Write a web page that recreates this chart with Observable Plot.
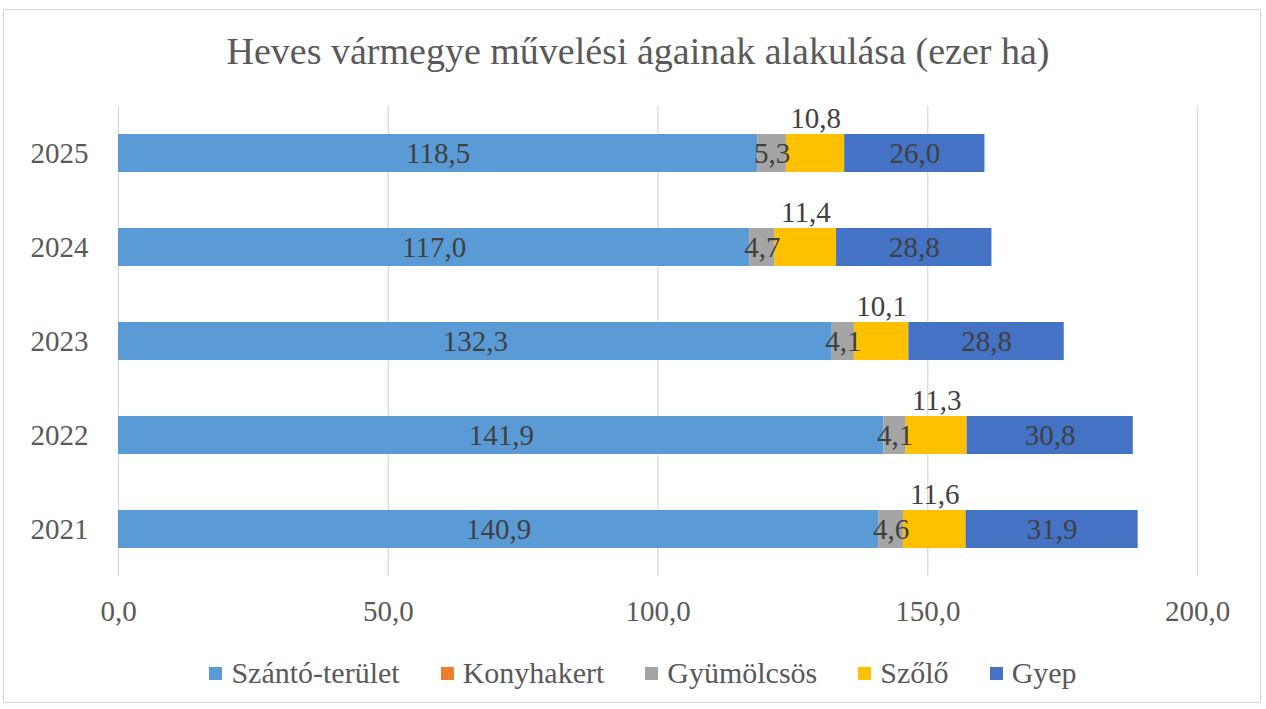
<!DOCTYPE html>
<html>
<head>
<meta charset="utf-8">
<script src="https://cdn.jsdelivr.net/npm/d3@7"></script>
<script src="https://cdn.jsdelivr.net/npm/@observablehq/plot@0.6"></script>
<style>
  html, body { margin: 0; padding: 0; background: #fff; }
  #wrap { position: relative; width: 1266px; height: 709px; overflow: hidden; font-family: "Liberation Serif", "Times New Roman", Times, "DejaVu Serif", "Noto Serif", FreeSerif, serif; }
  #frame { position: absolute; left: 3px; top: 9px; width: 1258px; height: 694px; border: 1px solid #d9d9d9; box-sizing: border-box; }
  #title { position: absolute; left: 0; width: 1276px; top: 30px; text-align: center; font-size: 38px; color: #595959; line-height: 42px; }
  #chart { position: absolute; left: 0; top: 90px; }
  #legend { position: absolute; left: 0; width: 1286px; top: 656px; display: flex; justify-content: center; gap: 41px; font-size: 30px; color: #595959; line-height: 34px; }
  .item { display: flex; align-items: center; gap: 9px; }
  .sw { width: 13px; height: 13px; display: inline-block; }
</style>
</head>
<body>
<div id="wrap">
  <div id="frame"></div>
  <div id="title">Heves vármegye művelési ágainak alakulása (ezer ha)</div>
  <div id="chart"></div>
  <div id="legend"></div>
</div>
<script>
const years = ["2025", "2024", "2023", "2022", "2021"];
const categories = ["Szántó-terület", "Konyhakert", "Gyümölcsös", "Szőlő", "Gyep"];
const colors = ["#5b9bd5", "#ed7d31", "#a5a5a5", "#ffc000", "#4472c4"];
const szanto =      [118.5, 117.0, 132.3, 141.9, 140.9];
const konyhakert =  [0, 0, 0, 0, 0];
const gyumolcsos =  [5.3, 4.7, 4.1, 4.1, 4.6];
const szolo =       [10.8, 11.4, 10.1, 11.3, 11.6];
const gyep =        [26.0, 28.8, 28.8, 30.8, 31.9];
const xTicks = [0, 50, 100, 150, 200];

const series = [szanto, konyhakert, gyumolcsos, szolo, gyep];
const data = [];
years.forEach((y, i) => {
  categories.forEach((c, j) => {
    data.push({year: y, cat: c, value: series[j][i]});
  });
});
const fmt = v => v.toFixed(1).replace(".", ",");
const font = "'Liberation Serif', 'Times New Roman', Times, 'DejaVu Serif', 'Noto Serif', FreeSerif, serif";

const stackOpts = {x: "value", y: "year", z: "cat", order: categories};

const plot = Plot.plot({
  width: 1266,
  height: 550,
  marginLeft: 118,
  marginRight: 69,
  marginTop: 16,
  marginBottom: 64,
  style: {fontFamily: font, fontSize: "29px", color: "#595959", background: "transparent"},
  x: {domain: [0, 200], ticks: xTicks, tickFormat: fmt, tickSize: 0, tickPadding: 24, label: null},
  y: {domain: years, paddingInner: 0.595, paddingOuter: 0.2975, tickSize: 0, tickPadding: 30, label: null},
  color: {domain: categories, range: colors},
  marks: [
    Plot.ruleX(xTicks, {stroke: "#d9d9d9", strokeWidth: 1.3}),
    Plot.barX(data, Plot.stackX({...stackOpts, fill: "cat"})),
    Plot.text(data, Plot.stackX({...stackOpts,
      text: d => (d.cat === "Konyhakert" || d.cat === "Szőlő") ? null : fmt(d.value),
      fill: "#404040", fontSize: 29})),
    Plot.text(data, Plot.stackX({...stackOpts,
      text: d => d.cat === "Szőlő" ? fmt(d.value) : null,
      fill: "#404040", fontSize: 29, dy: -35}))
  ]
});
document.getElementById("chart").appendChild(plot);

const leg = document.getElementById("legend");
categories.forEach((c, i) => {
  const it = document.createElement("div");
  it.className = "item";
  const sw = document.createElement("span");
  sw.className = "sw";
  sw.style.background = colors[i];
  const t = document.createElement("span");
  t.textContent = c;
  it.appendChild(sw); it.appendChild(t);
  leg.appendChild(it);
});
</script>
</body>
</html>
